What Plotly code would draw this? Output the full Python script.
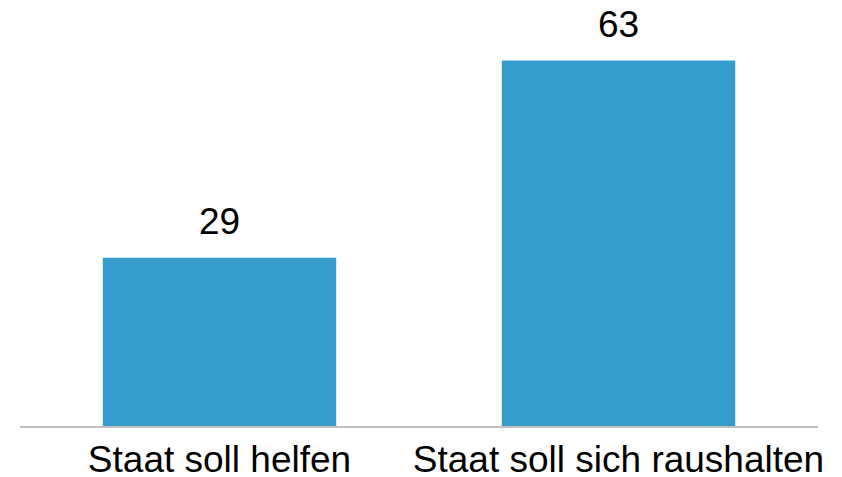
import plotly.graph_objects as go

categories = ["Staat soll helfen", "Staat soll sich raushalten"]
values = [29, 63]

bar_color = "#359cce"
font_family = "Arial, Liberation Sans, sans-serif"

fig = go.Figure()
fig.add_trace(go.Bar(x=categories, y=values, marker_color=bar_color,
                     marker_line_width=0))

# value labels above the bars
for cat, val in zip(categories, values):
    fig.add_annotation(x=cat, y=val, text=str(val), showarrow=False,
                       yanchor="bottom", yshift=14,
                       font=dict(family=font_family, size=37, color="#000000"))

# the page body keeps its default 8px margin, so the figure is sized to fit
fig.update_layout(
    width=834,
    height=469,
    margin=dict(l=12, r=24, t=12, b=51),
    paper_bgcolor="white",
    plot_bgcolor="white",
    bargap=0.415,
    showlegend=False,
    font=dict(family=font_family, size=37, color="#000000"),
)
fig.update_xaxes(showline=True, linecolor="#bfbfbf", linewidth=2,
                 ticks="", showgrid=False, tickfont=dict(size=37),
                 automargin=False)
fig.update_yaxes(range=[0, 70], visible=False, showgrid=False,
                 automargin=False)

fig.write_html("out.html")
